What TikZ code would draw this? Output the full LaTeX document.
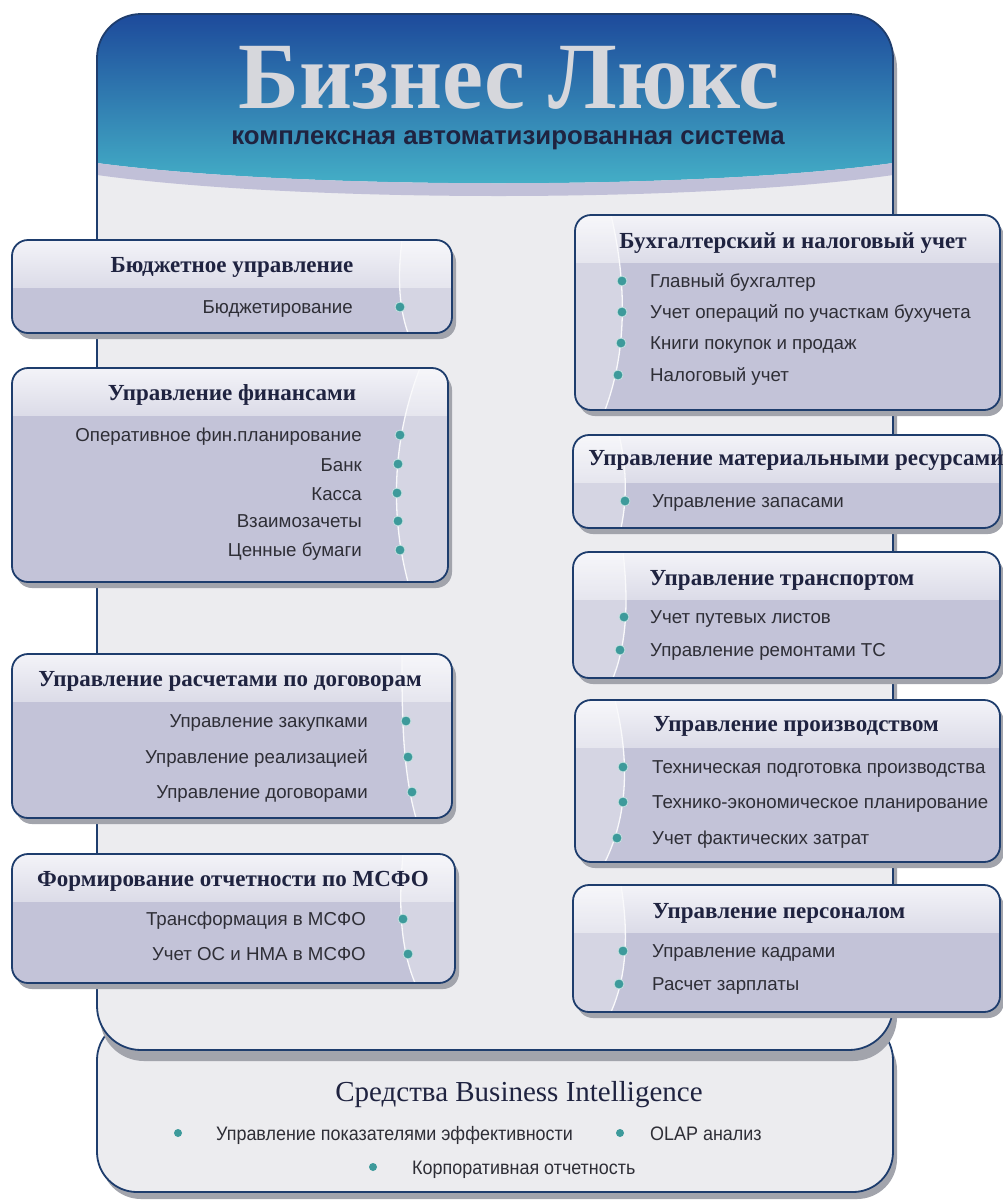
\documentclass[tikz,border=0pt]{standalone}
\usepackage{fontspec}
\setmainfont{Liberation Serif}
\newfontfamily\itfont{Liberation Sans}
\newfontfamily\narrowfont[FakeStretch=0.92]{Liberation Sans}
\newfontfamily\bigfont[FakeStretch=0.97]{Liberation Serif}
\definecolor{bord}{HTML}{1E3D6D}
\definecolor{shad}{HTML}{A2A4AC}
\definecolor{hdtop}{HTML}{F3F3F8}
\definecolor{hdbot}{HTML}{DCDCE8}
\definecolor{lowc}{HTML}{C3C3D8}
\definecolor{panelc}{HTML}{ECECEF}
\definecolor{lav}{HTML}{C1C0D8}
\definecolor{dotc}{HTML}{3D9A9B}
\definecolor{itxt}{HTML}{2E2E36}
\definecolor{hdtxt}{HTML}{1F2340}
\definecolor{blue1}{HTML}{1D4A9B}
\definecolor{blue2}{HTML}{3D82BC}
\definecolor{blue3}{HTML}{45B2C8}
\definecolor{silver}{HTML}{D6D7DC}
\tikzset{
  hd/.style={font=\fontsize{23}{26}\selectfont\bfseries, text=hdtxt, inner sep=0pt, anchor=base, yshift=-7.5pt},
  itl/.style={font=\itfont\fontsize{18.7}{21}\selectfont, text=itxt, anchor=base east, inner sep=0pt, yshift=-6.5pt},
  itr/.style={font=\itfont\fontsize{18.7}{21}\selectfont, text=itxt, anchor=base west, inner sep=0pt, yshift=-6.5pt},
  bul/.style={circle, fill=dotc, draw=white!70!dotc, line width=0.8pt, minimum size=10pt, inner sep=0pt},
  bitem/.style={font=\narrowfont\fontsize{19.5}{22}\selectfont, text=itxt, anchor=base west, inner sep=0pt, yshift=-7pt},
}
% left card: x1 y1 x2 y2 ctop cmid cbot
\newcommand\leftcard[7]{%
  \fill[shad, rounded corners=16pt] ({#1+4},{#2+6}) rectangle ({#3+4},{#4+6});
  \begin{scope}
    \clip[rounded corners=16pt] (#1,#2) rectangle (#3,#4);
    \fill[lowc] (#1,#2) rectangle (#3,#4);
    \shade[top color=hdtop, bottom color=hdbot] (#1,#2) rectangle (#3,{#2+47});
    \fill[white, opacity=.3] ({#3-#5},#2) .. controls ({#3-#6},{#2+0.35*(#4-#2)}) and ({#3-#6},{#2+0.7*(#4-#2)}) .. ({#3-#7},#4) -- (#3,#4) -- (#3,#2) -- cycle;
    \draw[white!90!lowc, line width=1.3pt] ({#3-#5},#2) .. controls ({#3-#6},{#2+0.35*(#4-#2)}) and ({#3-#6},{#2+0.7*(#4-#2)}) .. ({#3-#7},#4);
  \end{scope}
  \draw[bord, line width=1.8pt, rounded corners=16pt] (#1,#2) rectangle (#3,#4);
}
\newcommand\rightcard[7]{%
  \fill[shad, rounded corners=16pt] ({#1+4},{#2+6}) rectangle ({#3+4},{#4+6});
  \begin{scope}
    \clip[rounded corners=16pt] (#1,#2) rectangle (#3,#4);
    \fill[lowc] (#1,#2) rectangle (#3,#4);
    \shade[top color=hdtop, bottom color=hdbot] (#1,#2) rectangle (#3,{#2+47});
    \fill[white, opacity=.3] ({#1+#5},#2) .. controls ({#1+#6},{#2+0.35*(#4-#2)}) and ({#1+#6},{#2+0.7*(#4-#2)}) .. ({#1+#7},#4) -- (#1,#4) -- (#1,#2) -- cycle;
    \draw[white!90!lowc, line width=1.3pt] ({#1+#5},#2) .. controls ({#1+#6},{#2+0.35*(#4-#2)}) and ({#1+#6},{#2+0.7*(#4-#2)}) .. ({#1+#7},#4);
  \end{scope}
  \draw[bord, line width=1.8pt, rounded corners=16pt] (#1,#2) rectangle (#3,#4);
}
\begin{document}
\begin{tikzpicture}[x=1pt, y=-1pt]
\useasboundingbox (0,0) rectangle (1003,1203);
\fill[white] (0,0) rectangle (1003,1203);

% bottom panel
\fill[shad, rounded corners=40pt] (101,1030) rectangle (897,1199);
\draw[bord, line width=1.8pt, fill=panelc, rounded corners=40pt] (97,1020) rectangle (893,1192);

% main panel shadow
\fill[shad, rounded corners=44pt] (100,24) rectangle (897,1061);
% main panel
\begin{scope}
  \clip[rounded corners=44pt] (97,14) rectangle (893,1050);
  \fill[panelc] (97,14) rectangle (893,1050);
  \shade[top color=blue1, middle color=blue2, bottom color=blue3] (97,14) -- (893,14) -- (893,163) .. controls (700,190) and (300,190) .. (97,163) -- cycle;
  \fill[lav] (97,163) .. controls (300,190) and (700,190) .. (893,163) -- (893,175) .. controls (700,203) and (300,203) .. (97,175) -- cycle;
\end{scope}
\draw[bord, line width=1.8pt, rounded corners=44pt] (97,14) rectangle (893,1050);

\node[font=\bigfont\fontsize{95}{100}\selectfont\bfseries, text=silver, inner sep=0pt, text depth=0pt, anchor=base] (title) at (509,108) {Бизнес Люкс};
\node[font=\itfont\fontsize{25.8}{29}\selectfont\bfseries, text=hdtxt, inner sep=0pt, anchor=base] (subtitle) at (508,144) {комплексная автоматизированная система};

% ---------- left cards
\leftcard{12}{240}{452}{333}{50}{54}{44}
\node[hd] (h1) at (232,265) {Бюджетное управление};
\node[itl] (i11) at (353,307) {Бюджетирование};
\node[bul] (d11) at (400,307) {};

\leftcard{12}{368}{448}{582}{28}{57}{40}
\node[hd] (h2) at (232,393) {Управление финансами};
\node[itl] (i21) at (362,435) {Оперативное фин.планирование};
\node[itl] (i22) at (362,465) {Банк};
\node[itl] (i23) at (362,494) {Касса};
\node[itl] (i24) at (362,521) {Взаимозачеты};
\node[itl] (i25) at (362,550) {Ценные бумаги};
\node[bul] (d21) at (400,435) {};
\node[bul] (d22) at (398,464) {};
\node[bul] (d23) at (397,493) {};
\node[bul] (d24) at (398,521) {};
\node[bul] (d25) at (400,550) {};

\leftcard{12}{654}{452}{818}{50}{50}{36}
\node[hd] (h3) at (230,679) {Управление расчетами по договорам};
\node[itl] (i31) at (368,721) {Управление закупками};
\node[itl] (i32) at (368,757) {Управление реализацией};
\node[itl] (i33) at (368,792) {Управление договорами};
\node[bul] (d31) at (406,721) {};
\node[bul] (d32) at (408,757) {};
\node[bul] (d33) at (412,792) {};

\leftcard{12}{854}{455}{983}{52}{56}{40}
\node[hd] (h4) at (233,879) {Формирование отчетности по МСФО};
\node[itl] (i41) at (366,919) {Трансформация в МСФО};
\node[itl] (i42) at (366,954) {Учет ОС и НМА в МСФО};
\node[bul] (d41) at (403,919) {};
\node[bul] (d42) at (408,954) {};

% ---------- right cards
\rightcard{575}{215}{1000}{410}{36}{52}{30}
\node[hd] (h5) at (793,241) {Бухгалтерский и налоговый учет};
\node[itr] (i51) at (650,281) {Главный бухгалтер};
\node[itr] (i52) at (650,312) {Учет операций по участкам бухучета};
\node[itr] (i53) at (650,343) {Книги покупок и продаж};
\node[itr] (i54) at (650,375) {Налоговый учет};
\node[bul] (d51) at (622,281) {};
\node[bul] (d52) at (622,312) {};
\node[bul] (d53) at (621,343) {};
\node[bul] (d54) at (618,375) {};

\rightcard{573}{435}{1000}{528}{46}{54}{48}
\node[hd] (h6) at (796,458) {Управление материальными ресурсами};
\node[itr] (i61) at (652,501) {Управление запасами};
\node[bul] (d61) at (625,501) {};

\rightcard{573}{552}{1000}{678}{50}{55}{40}
\node[hd] (h7) at (782,578) {Управление транспортом};
\node[itr] (i71) at (650,617) {Учет путевых листов};
\node[itr] (i72) at (650,650) {Управление ремонтами ТС};
\node[bul] (d71) at (624,617) {};
\node[bul] (d72) at (620,650) {};

\rightcard{575}{700}{1000}{862}{40}{54}{30}
\node[hd] (h8) at (796,724) {Управление производством};
\node[itr] (i81) at (652,767) {Техническая подготовка производства};
\node[itr] (i82) at (652,802) {Технико-экономическое планирование};
\node[itr] (i83) at (652,838) {Учет фактических затрат};
\node[bul] (d81) at (623,767) {};
\node[bul] (d82) at (623,802) {};
\node[bul] (d83) at (617,838) {};

\rightcard{573}{885}{1000}{1012}{48}{55}{38}
\node[hd] (h9) at (779,911) {Управление персоналом};
\node[itr] (i91) at (652,951) {Управление кадрами};
\node[itr] (i92) at (652,984) {Расчет зарплаты};
\node[bul] (d91) at (623,951) {};
\node[bul] (d92) at (619,984) {};

% ---------- bottom section
\node[font=\fontsize{29}{32}\selectfont, text=hdtxt, inner sep=0pt, anchor=base] (bi) at (519,1101) {Средства Business Intelligence};
\node[bul, draw=none, minimum size=8pt] (bd1) at (178,1133) {};
\node[bul, draw=none, minimum size=8pt] (bd2) at (620,1133) {};
\node[bul, draw=none, minimum size=8pt] (bd3) at (373,1167) {};
\node[bitem] (bt1) at (216,1133) {Управление показателями эффективности};
\node[bitem] (bt2) at (650,1133) {OLAP анализ};
\node[bitem] (bt3) at (412,1167) {Корпоративная отчетность};
\end{tikzpicture}
\end{document}
